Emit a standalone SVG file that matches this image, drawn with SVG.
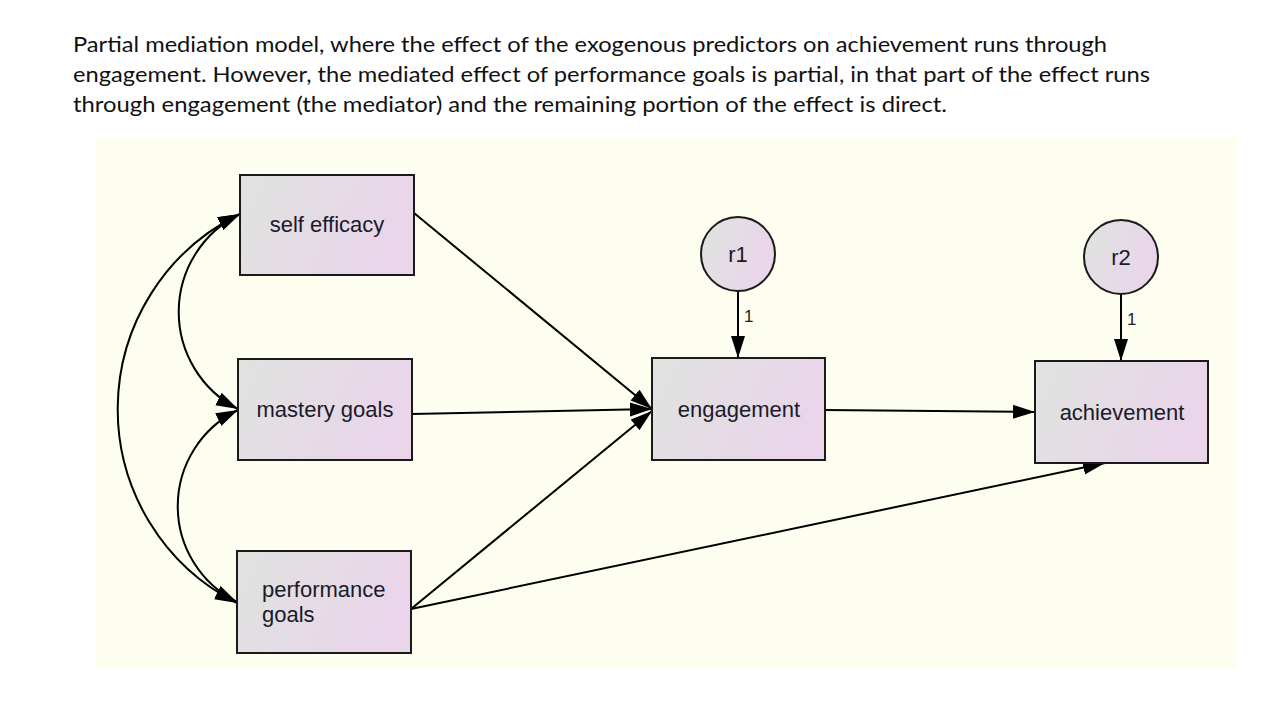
<svg xmlns="http://www.w3.org/2000/svg" width="1280" height="720" viewBox="0 0 1280 720">
<defs>
<linearGradient id="g" x1="0" y1="0" x2="1" y2="0.3">
<stop offset="0" stop-color="#dfe3df"/>
<stop offset="1" stop-color="#ead5ea"/>
</linearGradient>
<marker id="ah" markerUnits="userSpaceOnUse" markerWidth="24" markerHeight="16" refX="22" refY="7" orient="auto-start-reverse" viewBox="0 0 24 16">
<path d="M0,0 L22,7 L0,14 z" fill="#000"/>
</marker>
<style>
.box{fill:url(#g);stroke:#1a1a1a;stroke-width:2}
.lbl{font-family:"Liberation Sans",Arial,sans-serif;font-size:22px;fill:#1a1a2a}
.one{font-family:"Liberation Sans",Arial,sans-serif;font-size:17px;fill:#222}
.c{fill:none;stroke:#000;stroke-width:2;marker-end:url(#ah)}
.d{fill:none;stroke:#000;stroke-width:2;marker-start:url(#ah);marker-end:url(#ah)}
.hd{font-family:Lato,"Open Sans",sans-serif;font-size:21px;fill:#111}
</style>
</defs>
<rect width="1280" height="720" fill="#fff"/>
<rect x="96" y="138" width="1141" height="530" fill="#fdfdf0"/>
<g id="heading">
<text class="hd" x="73" y="52" textLength="1034" lengthAdjust="spacingAndGlyphs">Partial mediation model, where the effect of the exogenous predictors on achievement runs through</text>
<text class="hd" x="73" y="82" textLength="1077" lengthAdjust="spacingAndGlyphs">engagement. However, the mediated effect of performance goals is partial, in that part of the effect runs</text>
<text class="hd" x="73" y="112" textLength="874" lengthAdjust="spacingAndGlyphs">through engagement (the mediator) and the remaining portion of the effect is direct.</text>
</g>
<g id="connectors">
<path class="c" d="M414,213 L652,409"/>
<path class="c" d="M412,414 L652,409"/>
<path class="c" d="M411,609 L652,411"/>
<path class="c" d="M411,609 L1105,463"/>
<path class="c" d="M825,410 L1035,412"/>
<path class="c" d="M738,291 L738,358"/>
<path class="c" d="M1121,294 L1121,361"/>
<path class="d" d="M240,214 A109,109 0 0,0 238,409"/>
<path class="d" d="M238,410 A107,107 0 0,0 237,602"/>
<path class="d" d="M240,214 A217,217 0 0,0 237,603"/>
<text class="one" x="744" y="322">1</text>
<text class="one" x="1127" y="325">1</text>
</g>
<g id="self-efficacy">
<rect class="box" x="240" y="175" width="174" height="100"/>
<text class="lbl" x="327" y="232" text-anchor="middle">self efficacy</text>
</g>
<g id="mastery-goals">
<rect class="box" x="238" y="359" width="174" height="101"/>
<text class="lbl" x="325" y="417" text-anchor="middle">mastery goals</text>
</g>
<g id="performance-goals">
<rect class="box" x="237" y="551" width="174" height="102"/>
<text class="lbl" x="262" y="597">performance</text>
<text class="lbl" x="262" y="622">goals</text>
</g>
<g id="engagement">
<rect class="box" x="652" y="358" width="173" height="102"/>
<text class="lbl" x="739" y="417" text-anchor="middle">engagement</text>
</g>
<g id="achievement">
<rect class="box" x="1035" y="361" width="173" height="102"/>
<text class="lbl" x="1122" y="420" text-anchor="middle">achievement</text>
</g>
<g id="r1">
<circle class="box" cx="738" cy="254" r="37"/>
<text class="lbl" x="738" y="262" text-anchor="middle">r1</text>
</g>
<g id="r2">
<circle class="box" cx="1121" cy="257" r="37"/>
<text class="lbl" x="1121" y="265" text-anchor="middle">r2</text>
</g>
</svg>
